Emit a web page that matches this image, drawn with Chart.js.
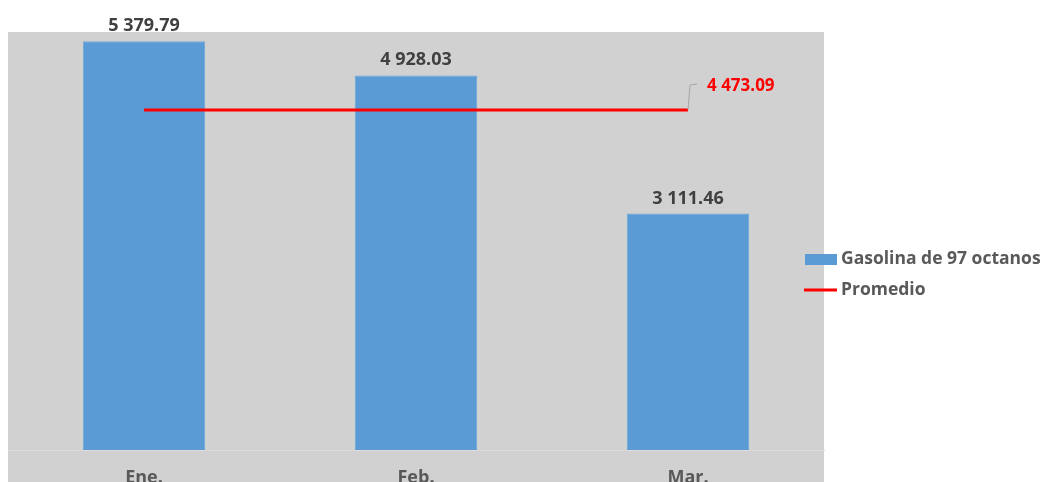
<!DOCTYPE html>
<html>
<head>
<meta charset="utf-8">
<script src="https://cdn.jsdelivr.net/npm/chart.js@4"></script>
<style>
  body { margin: 0; background: #fff; }
  #wrap { width: 1043px; height: 482px; }
</style>
</head>
<body>
<div id="wrap"><canvas id="fuel_chart"></canvas></div>
<script>
const months = ["Ene.", "Feb.", "Mar."];
const gasoline97 = [5379.79, 4928.03, 3111.46];
const averageValue = 4473.09;
const averageLine = months.map(() => averageValue);

const FONT = "'Open Sans', 'Noto Sans', sans-serif";

// format numbers as "5 379.79"
function fmt(v) {
  const parts = v.toFixed(2).split(".");
  return parts[0].replace(/\B(?=(\d{3})+(?!\d))/g, " ") + "." + parts[1];
}

// gray plot background running down through the category labels
const plotBackground = {
  id: "plotBackground",
  beforeDraw(chart) {
    const { ctx, chartArea } = chart;
    ctx.save();
    ctx.fillStyle = "#d1d1d1";
    ctx.fillRect(chartArea.left, chartArea.top, chartArea.right - chartArea.left, chart.height - chartArea.top);
    ctx.restore();
  },
};

// value labels above the bars and on the average line
const valueLabels = {
  id: "valueLabels",
  afterDatasetsDraw(chart) {
    const { ctx } = chart;
    ctx.save();
    ctx.font = "bold 18px " + FONT;
    ctx.textBaseline = "alphabetic";

    const barMeta = chart.getDatasetMeta(0);
    ctx.fillStyle = "#404040";
    ctx.textAlign = "center";
    barMeta.data.forEach((bar, i) => {
      ctx.fillText(fmt(gasoline97[i]), bar.x, bar.y - 10);
    });

    // label only on the last point of the average line, with a leader
    const lineMeta = chart.getDatasetMeta(1);
    const last = lineMeta.data[lineMeta.data.length - 1];
    ctx.strokeStyle = "#a6a6a6";
    ctx.lineWidth = 1;
    ctx.beginPath();
    ctx.moveTo(last.x, last.y);
    ctx.lineTo(last.x + 2, last.y - 25);
    ctx.lineTo(last.x + 9, last.y - 26);
    ctx.stroke();
    ctx.fillStyle = "#ff0000";
    ctx.textAlign = "left";
    ctx.font = "bold 17px " + FONT;
    ctx.fillText(fmt(averageValue), last.x + 19, last.y - 19);
    ctx.restore();
  },
};

// legend on the right side
const sideLegend = {
  id: "sideLegend",
  afterDraw(chart) {
    const { ctx } = chart;
    ctx.save();
    ctx.font = "bold 17.5px " + FONT;
    ctx.textAlign = "left";
    ctx.textBaseline = "middle";
    ctx.fillStyle = "#5b9bd5";
    ctx.fillRect(805, 254, 32, 11);
    ctx.strokeStyle = "#ff0000";
    ctx.lineWidth = 3;
    ctx.beginPath();
    ctx.moveTo(804, 290);
    ctx.lineTo(837, 290);
    ctx.stroke();
    ctx.fillStyle = "#595959";
    ctx.fillText("Gasolina de 97 octanos", 841, 259);
    ctx.fillText("Promedio", 841, 290);
    ctx.restore();
  },
};

function createFuelChart() {
  const data = {
    labels: months,
    datasets: [
      {
        type: "bar",
        label: "Gasolina de 97 octanos",
        data: gasoline97,
        backgroundColor: "#5b9bd5",
        borderColor: "#6ea6d9",
        borderWidth: 1,
        categoryPercentage: 1,
        barPercentage: 0.45,
        order: 2,
      },
      {
        type: "line",
        label: "Promedio",
        data: averageLine,
        borderColor: "#ff0000",
        borderWidth: 3,
        pointRadius: 0,
        fill: false,
        order: 1,
      },
    ],
  };

  const config = {
    data,
    options: {
      responsive: true,
      maintainAspectRatio: false,
      animation: false,
      layout: { padding: { left: 8, right: 219, top: 32, bottom: 0 } },
      plugins: {
        legend: { display: false },
        tooltip: { enabled: false },
      },
      scales: {
        x: {
          grid: { display: false, drawTicks: false },
          border: { color: "#dcdcdc", width: 1 },
          ticks: {
            color: "#595959",
            font: { family: FONT, size: 18, weight: "bold" },
            padding: 17,
          },
          afterFit(scale) {
            scale.height = 32;
          },
        },
        y: {
          display: false,
          min: 0,
          max: 5500,
        },
      },
    },
    plugins: [plotBackground, valueLabels, sideLegend],
  };

  new Chart(document.getElementById("fuel_chart"), config);
}

window.addEventListener("DOMContentLoaded", createFuelChart);
</script>
</body>
</html>
